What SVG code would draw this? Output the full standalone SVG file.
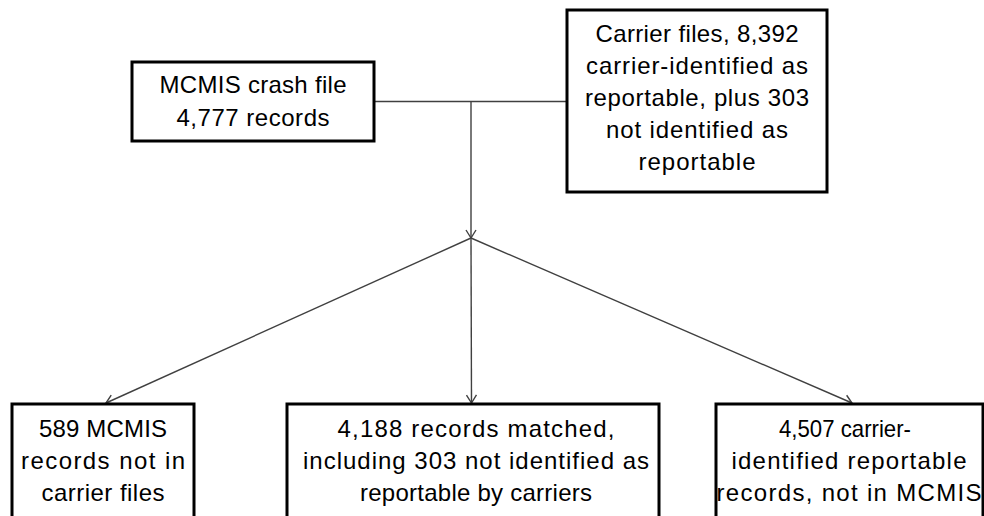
<svg xmlns="http://www.w3.org/2000/svg" width="984" height="516" viewBox="0 0 984 516">
<defs>
<style>
.box{fill:#fff;stroke:#000;stroke-width:3}
.t{font-family:"Liberation Sans",Arial,sans-serif;font-size:24px;fill:#000;text-anchor:middle}
.c{fill:none;stroke:#404040;stroke-width:1.4}
</style>
<marker id="arr" markerUnits="userSpaceOnUse" markerWidth="14" markerHeight="14" viewBox="0 0 14 14" refX="12" refY="7" orient="auto">
<path d="M4,2 L12,7 L4,12" fill="none" stroke="#404040" stroke-width="1.4"/>
</marker>
</defs>
<rect width="984" height="516" fill="#fff"/>
<g id="connectors">
<line class="c" x1="374" y1="101.5" x2="567" y2="101.5"/>
<line class="c" x1="471" y1="101.5" x2="471" y2="238" marker-end="url(#arr)"/>
<line class="c" x1="471" y1="238" x2="106" y2="403" marker-end="url(#arr)"/>
<line class="c" x1="471" y1="238" x2="471.5" y2="403" marker-end="url(#arr)"/>
<line class="c" x1="471" y1="238" x2="852" y2="403" marker-end="url(#arr)"/>
</g>
<g id="mcmis">
<rect class="box" x="132" y="62" width="242" height="79"/>
<text class="t" x="253" y="93" textLength="187" lengthAdjust="spacing">MCMIS crash file</text>
<text class="t" x="253" y="126" textLength="153" lengthAdjust="spacing">4,777 records</text>
</g>
<g id="carrier">
<rect class="box" x="567" y="10" width="260" height="182"/>
<text class="t" x="697" y="42" textLength="203" lengthAdjust="spacing">Carrier files, 8,392</text>
<text class="t" x="697" y="74" textLength="222" lengthAdjust="spacing">carrier-identified as</text>
<text class="t" x="697" y="106" textLength="224" lengthAdjust="spacing">reportable, plus 303</text>
<text class="t" x="697" y="138" textLength="182" lengthAdjust="spacing">not identified as</text>
<text class="t" x="697" y="170" textLength="117" lengthAdjust="spacing">reportable</text>
</g>
<g id="mcmis-only">
<rect class="box" x="12" y="404" width="182" height="130"/>
<text class="t" x="103" y="437" textLength="128" lengthAdjust="spacing">589 MCMIS</text>
<text class="t" x="103" y="469" textLength="164" lengthAdjust="spacing">records not in</text>
<text class="t" x="103" y="501" textLength="123" lengthAdjust="spacing">carrier files</text>
</g>
<g id="matched">
<rect class="box" x="287" y="404" width="372" height="130"/>
<text class="t" x="476" y="437" textLength="277" lengthAdjust="spacing">4,188 records matched,</text>
<text class="t" x="476" y="469" textLength="346" lengthAdjust="spacing">including 303 not identified as</text>
<text class="t" x="476" y="501" textLength="232" lengthAdjust="spacing">reportable by carriers</text>
</g>
<g id="carrier-only">
<rect class="box" x="716" y="404" width="267" height="130"/>
<text class="t" x="845" y="437" textLength="132" lengthAdjust="spacingAndGlyphs">4,507 carrier-</text>
<text class="t" x="849" y="469" textLength="235" lengthAdjust="spacing">identified reportable</text>
<text class="t" x="849" y="501" textLength="265" lengthAdjust="spacing">records, not in MCMIS</text>
</g>
</svg>
